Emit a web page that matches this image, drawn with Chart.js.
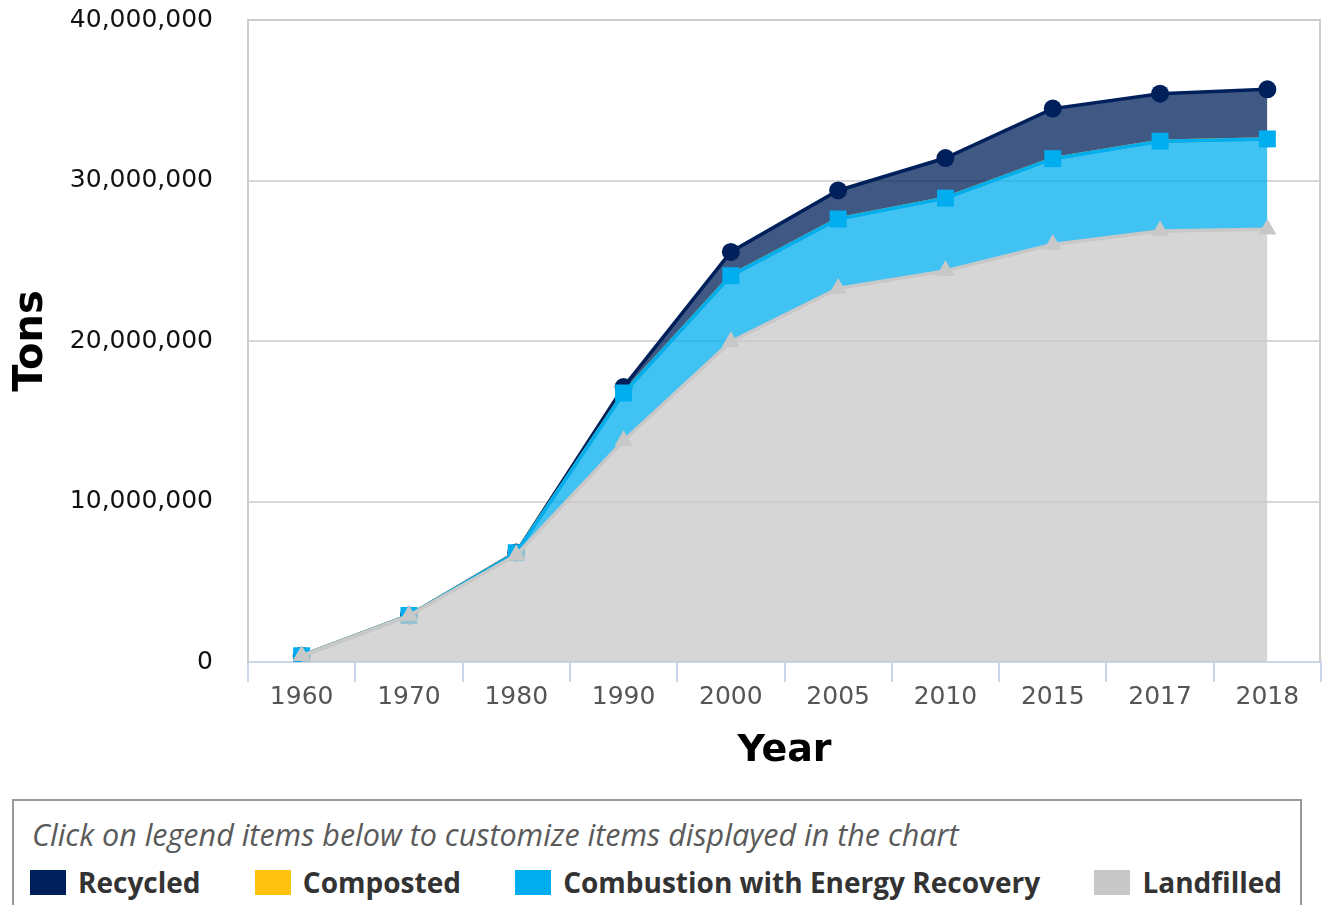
<!DOCTYPE html>
<html>
<head>
<meta charset="utf-8">
<script src="https://cdn.jsdelivr.net/npm/chart.js@4.4.1/dist/chart.umd.min.js"></script>
<style>
  html, body { margin: 0; padding: 0; background: #fff; }
  #wrap { position: absolute; left: 0; top: 0; width: 1322px; height: 790px; }
  #legend {
    position: absolute; left: 12px; top: 799px; width: 1290px; height: 130px;
    border: 2px solid #9a9a9a; box-sizing: border-box;
    font-family: "Open Sans", sans-serif;
  }
  #legend .hint { position: absolute; left: 18px; top: 12px; font-style: italic; font-size: 30.5px; color: #5a5a5a; white-space: nowrap; }
  #legend .items { position: absolute; left: 16px; right: 18px; top: 62px; display: flex; justify-content: space-between; }
  #legend .item { display: flex; align-items: center; font-weight: bold; font-size: 28px; color: #333; cursor: pointer; white-space: nowrap; }
  #legend .box { width: 36px; height: 25px; margin-right: 12px; }
</style>
</head>
<body>
<div id="wrap"><canvas id="chart"></canvas></div>
<div id="legend">
  <div class="hint">Click on legend items below to customize items displayed in the chart</div>
  <div class="items" id="legendItems"></div>
</div>
<script>
var years = ['1960', '1970', '1980', '1990', '2000', '2005', '2010', '2015', '2017', '2018'];
var recycled = [0, 0, 20000, 370000, 1480000, 1780000, 2500000, 3120000, 2960000, 3090000];
var composted = [0, 0, 0, 0, 0, 0, 0, 0, 0, 0];
var combustion = [0, 10000, 140000, 2980000, 4120000, 4330000, 4530000, 5350000, 5590000, 5620000];
var landfilled = [390000, 2890000, 6670000, 13780000, 19950000, 23270000, 24370000, 26010000, 26860000, 26970000];
var yTicks = [0, 10000000, 20000000, 30000000, 40000000];

var navy = '#00205b', yellow = '#ffc20e', blue = '#00aeef', gray = '#c8c8c8';

function series(label, data, color, fillColor, shape, radius, fill) {
  return {
    label: label,
    data: data,
    borderColor: color,
    backgroundColor: fillColor,
    pointBackgroundColor: color,
    pointBorderColor: color,
    pointBorderWidth: 0,
    pointStyle: shape,
    pointRadius: radius,
    pointHoverRadius: radius,
    borderWidth: 3.5,
    tension: 0,
    fill: fill
  };
}

// bottom of the stack first
var datasets = [
  series('Landfilled', landfilled, gray, 'rgba(200,200,200,0.75)', 'triangle', 10.5, 'origin'),
  series('Combustion with Energy Recovery', combustion, blue, 'rgba(0,174,239,0.75)', 'rect', 12, '-1'),
  series('Composted', composted, yellow, 'rgba(255,194,14,0.75)', 'circle', 0, '-1'),
  series('Recycled', recycled, navy, 'rgba(0,32,91,0.75)', 'circle', 9, '-1')
];

var plotFrame = {
  id: 'plotFrame',
  afterDraw: function (chart) {
    var a = chart.chartArea, ctx = chart.ctx;
    ctx.save();
    ctx.strokeStyle = '#cccccc';
    ctx.lineWidth = 2;
    ctx.beginPath();
    ctx.moveTo(a.left, a.top);
    ctx.lineTo(a.right - 1, a.top);
    ctx.lineTo(a.right - 1, a.bottom);
    ctx.stroke();
    ctx.restore();
  }
};

var chart = new Chart(document.getElementById('chart').getContext('2d'), {
  type: 'line',
  data: { labels: years, datasets: datasets },
  plugins: [plotFrame],
  options: {
    responsive: true,
    maintainAspectRatio: false,
    animation: false,
    layout: { autoPadding: false, padding: { top: 20, right: 1, left: 0, bottom: 0 } },
    plugins: {
      legend: { display: false },
      tooltip: { mode: 'index', intersect: false }
    },
    scales: {
      x: {
        offset: true,
        grid: { offset: true, drawOnChartArea: false, drawTicks: true, tickLength: 20, color: '#ccd6eb', lineWidth: 2 },
        border: { color: '#ccd6eb', width: 2 },
        ticks: { color: '#555', padding: 0, font: { family: 'DejaVu Sans', size: 25 } },
        title: { display: true, text: 'Year', color: '#000', font: { family: 'DejaVu Sans', size: 38, weight: 'bold' }, padding: { top: 0, bottom: 16 } },
        afterFit: function (s) { s.height = 128; s.paddingLeft = 0; s.paddingRight = 0; }
      },
      y: {
        stacked: true,
        min: 0,
        max: 40000000,
        afterBuildTicks: function (s) { s.ticks = yTicks.map(function (v) { return { value: v }; }); },
        grid: { color: '#d8d8d8', lineWidth: 2, drawTicks: false },
        border: { color: '#cccccc', width: 2 },
        ticks: {
          color: '#111', padding: 35, font: { family: 'DejaVu Sans', size: 25 },
          callback: function (v) { return v.toLocaleString('en-US'); }
        },
        title: { display: true, text: 'Tons', color: '#000', font: { family: 'DejaVu Sans', size: 40, weight: 'bold' }, padding: { top: 8, bottom: 0 } },
        afterFit: function (s) { s.width = 248; s.paddingTop = 0; s.paddingBottom = 0; }
      }
    }
  }
});

// html legend, same order as the original (top of the stack first)
var holder = document.getElementById('legendItems');
chart.data.datasets.slice().reverse().forEach(function (ds) {
  var idx = chart.data.datasets.indexOf(ds);
  var item = document.createElement('div');
  item.className = 'item';
  var box = document.createElement('span');
  box.className = 'box';
  box.style.background = ds.borderColor;
  item.appendChild(box);
  item.appendChild(document.createTextNode(ds.label));
  item.onclick = function () {
    chart.setDatasetVisibility(idx, !chart.isDatasetVisible(idx));
    item.style.opacity = chart.isDatasetVisible(idx) ? 1 : 0.4;
    chart.update();
  };
  holder.appendChild(item);
});
</script>
</body>
</html>
